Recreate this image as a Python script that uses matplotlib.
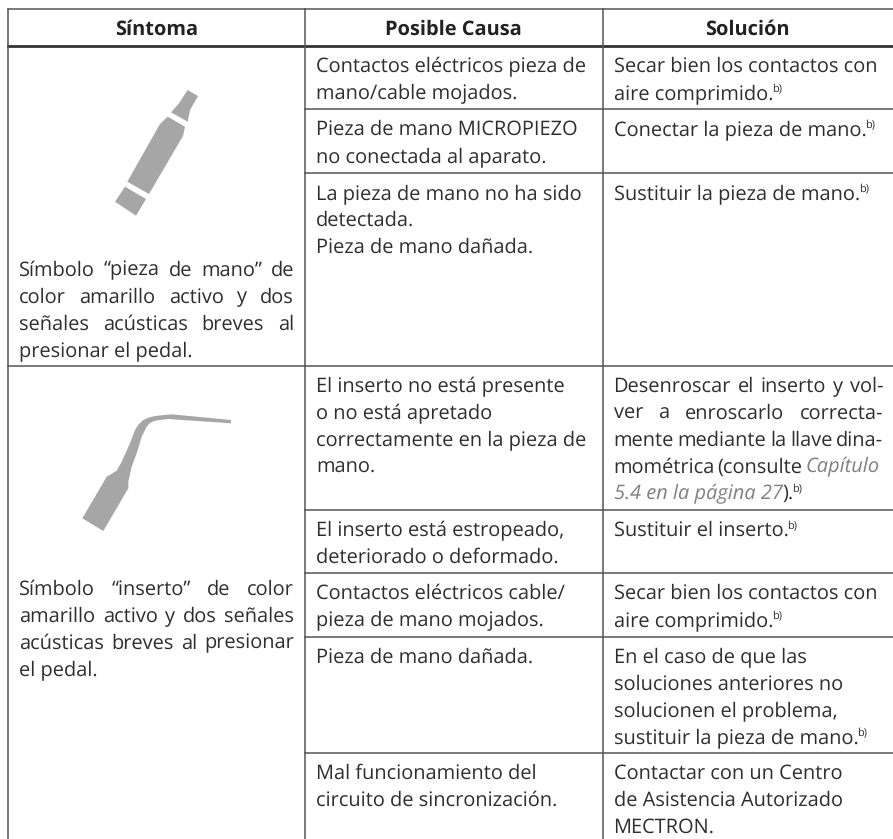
import matplotlib
matplotlib.use('Agg')
import matplotlib.pyplot as plt
from matplotlib.patches import Polygon

W, H = 893, 839
FONT = 'Open Sans'
FS = 14.45
TEXT = '#2e2e2e'
LINE = '#555555'
ICON = '#a6a6a6'
plt.rcParams['text.hinting'] = 'no_hinting'
plt.rcParams['text.hinting_factor'] = 1

headers = ['Síntoma', 'Posible Causa', 'Solución']

sintoma_1 = ['Símbolo “pieza de mano” de', 'color amarillo activo y dos', 'señales acústicas breves al', 'presionar el pedal.']
sintoma_2 = ['Símbolo “inserto” de color', 'amarillo activo y dos señales', 'acústicas breves al presionar', 'el pedal.']

causas = [
    ['Contactos eléctricos pieza de', 'mano/cable mojados.'],
    ['Pieza de mano MICROPIEZO', 'no conectada al aparato.'],
    ['La pieza de mano no ha sido', 'detectada.', 'Pieza de mano dañada.'],
    ['El inserto no está presente', 'o no está apretado', 'correctamente en la pieza de', 'mano.'],
    ['El inserto está estropeado,', 'deteriorado o deformado.'],
    ['Contactos eléctricos cable/', 'pieza de mano mojados.'],
    ['Pieza de mano dañada.'],
    ['Mal funcionamiento del', 'circuito de sincronización.'],
]
soluciones = [
    ['Secar bien los contactos con', 'aire comprimido.^'],
    ['Conectar la pieza de mano.^'],
    ['Sustituir la pieza de mano.^'],
    ['Desenroscar el inserto y vol-', 'ver a enroscarlo correcta-', 'mente mediante la llave dina-', 'mométrica (consulte |Capítulo', '|5.4 en la página 27|).^'],
    ['Sustituir el inserto.^'],
    ['Secar bien los contactos con', 'aire comprimido.^'],
    ['En el caso de que las', 'soluciones anteriores no', 'solucionen el problema,', 'sustituir la pieza de mano.^'],
    ['Contactar con un Centro', 'de Asistencia Autorizado', 'MECTRON.'],
]

# lineas de la tabla (pixeles)
col_x = [7.5, 305, 602.5]
row_y = [46, 109, 173, 366, 510, 573, 636.5, 753, 839]
PITCH = 26.8

# contornos de los iconos
pieza_tip = [(187.7, 90), (198, 96), (190, 110), (187.7, 121.7), (171, 112.3), (178.3, 104.3)]
pieza_body = [(167.7, 116.7), (185, 126.7), (183, 136), (149, 194), (127.3, 181.7), (160, 124)]
pieza_end = [(125, 186.7), (146, 199), (136, 215.7), (115, 201.7)]
inserto = [(82.3, 518.3), (106.7, 476.7), (116.7, 470.7), (121.7, 461.7), (130, 443.3), (135, 430),
           (138.5, 424.5), (143.3, 420), (149, 417.5), (155, 416), (171.7, 414.3), (231, 420), (231, 423.3),
           (168.3, 419), (155, 420.7), (150, 423), (146.7, 426.7), (141.7, 436.7), (136.7, 453.3),
           (131.7, 466.7), (128.3, 481.7), (128.3, 488.3), (103.3, 531)]

fig = plt.figure(figsize=(W / 100, H / 100), dpi=100)
ax = fig.add_axes([0, 0, 1, 1])
ax.set_xlim(0, W)
ax.set_ylim(H, 0)
ax.axis('off')
fig.canvas.draw()
rend = fig.canvas.get_renderer()


def put(x, y, s, **kw):
    kw.setdefault('size', FS)
    kw.setdefault('color', TEXT)
    t = ax.text(x, y, s, family=FONT, va='baseline', ha='left', **kw)
    return t, t.get_window_extent(rend).width


def rich_line(x, y, line):
    # | alterna cursiva gris, ^ es el superindice b)
    sup = line.endswith('^')
    parts = line.rstrip('^').split('|')
    for i, part in enumerate(parts):
        if not part:
            continue
        if i % 2:
            t, w = put(x, y, part, style='italic', color='#808080')
        else:
            t, w = put(x, y, part)
        x += w
    if sup:
        put(x - 1, y - 7, 'b)', size=8)


def justified(x0, x1, y, line):
    words = line.split(' ')
    sizes = []
    for w in words:
        t, size = put(0, -100, w.lstrip('|'))
        t.remove()
        sizes.append(size)
    gap = (x1 - x0 - sum(sizes)) / (len(words) - 1)
    x = x0
    for w, size in zip(words, sizes):
        if w.startswith('|'):
            put(x, y, w[1:], style='italic', color='#808080')
        else:
            put(x, y, w)
        x += size + gap


# bordes
ax.plot([7.5, W], [9, 9], color=LINE, lw=1.1)
ax.plot([7.5, W], [46, 46], color='#333333', lw=2)
for y in row_y[1:-1]:
    if y == 366:
        ax.plot([7.5, W], [y, y], color=LINE, lw=1.1)
    else:
        ax.plot([305, W], [y, y], color=LINE, lw=1.1)
for x in col_x:
    ax.plot([x, x], [9, H], color=LINE, lw=1.1)

# cabecera
for h, x0, x1 in zip(headers, col_x, col_x[1:] + [W]):
    ax.text((x0 + x1) / 2, 34.7, h, family=FONT, weight='bold', size=FS, color='#222222', ha='center', va='baseline')

# columna sintoma
for pts in [pieza_tip, pieza_body, pieza_end, inserto]:
    ax.add_patch(Polygon(pts, closed=True, fc=ICON, ec='none'))
for i, line in enumerate(sintoma_1):
    if i < 3:
        justified(19, 294, 275.7 + i * PITCH, line)
    else:
        put(19, 275.7 + i * PITCH, line)
for i, line in enumerate(sintoma_2):
    if i < 3:
        justified(19, 294, 595 + i * PITCH, line)
    else:
        put(19, 595 + i * PITCH, line)

# causa y solucion
for r, (causa, sol) in enumerate(zip(causas, soluciones)):
    y0 = row_y[r] + 26
    for i, line in enumerate(causa):
        put(316, y0 + i * PITCH, line)
    for i, line in enumerate(sol):
        if r == 3 and i < 4:
            justified(613.5, 883, y0 + i * PITCH, line)
        else:
            rich_line(613.5, y0 + i * PITCH, line)

fig.savefig('out.png', dpi=100)
